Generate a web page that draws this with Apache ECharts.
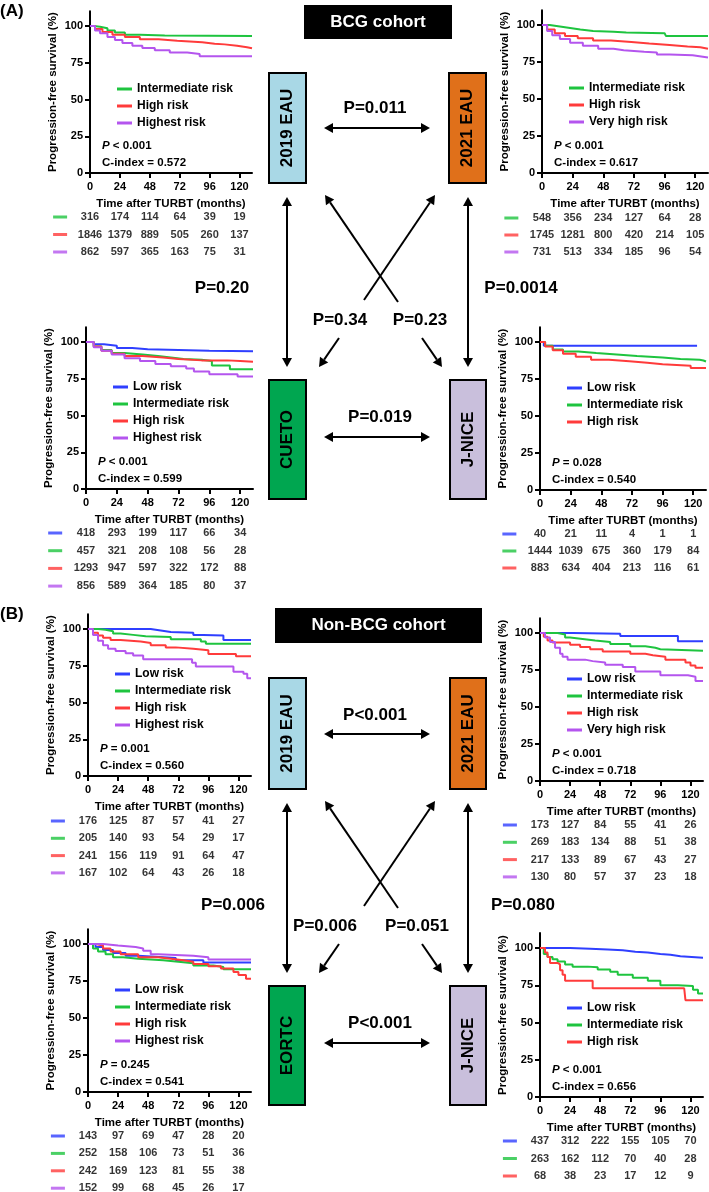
<!DOCTYPE html>
<html><head><meta charset="utf-8">
<script src="https://cdn.jsdelivr.net/npm/echarts@6/dist/echarts.min.js"></script>
<style>html,body{margin:0;padding:0;background:#fff}#c{width:709px;height:1192px}</style>
</head><body><div id="c"></div><script>
// ---------- DATA ----------
const xTicks = [0, 24, 48, 72, 96, 120];
const yTicks = [0, 25, 50, 75, 100];

// (A) BCG cohort — 2019 EAU
const bcg2019Names = ['Intermediate risk', 'High risk', 'Highest risk'];
const bcg2019Curves = [
  [[0,100],[3,99.5],[8,98.5],[14,97],[20,95.5],[28,94],[40,93.5],[60,93.2],[130,93.2]],
  [[0,100],[4,98],[10,96],[18,94],[28,92.5],[40,91],[55,90],[70,89],[90,88],[100,87.5],[108,86.5],[118,85.5],[126,84.8],[130,84.8]],
  [[0,100],[4,97],[8,95],[14,92.5],[20,90.5],[26,88.5],[34,86.5],[42,85],[52,83.5],[64,82],[78,81],[88,79.5],[130,79.5]]
];
const bcg2019Risk = [[316,174,114,64,39,19],[1846,1379,889,505,260,137],[862,597,365,163,75,31]];

// (A) BCG cohort — 2021 EAU
const bcg2021Names = ['Intermediate risk', 'High risk', 'Very high risk'];
const bcg2021Curves = [
  [[0,100],[6,99],[14,98],[22,97],[30,96],[40,95.5],[56,95],[66,94.5],[96,93.8],[97,92.6],[130,92.6]],
  [[0,100],[4,97],[10,94.5],[18,92.5],[28,91],[40,89.5],[54,88.5],[70,87.5],[84,86.5],[100,85.5],[114,85],[124,84],[130,84]],
  [[0,100],[4,96],[8,93],[14,90.5],[22,88],[32,86],[44,84],[56,83],[64,82],[80,81.5],[90,80],[100,79.5],[118,79],[122,78],[130,78]]
];
const bcg2021Risk = [[548,356,234,127,64,28],[1745,1281,800,420,214,105],[731,513,334,185,96,54]];

// (A) BCG cohort — CUETO
const bcgCuetoNames = ['Low risk', 'Intermediate risk', 'High risk', 'Highest risk'];
const bcgCuetoCurves = [
  [[0,100],[6,98.5],[14,97.5],[24,96],[36,95],[48,94.5],[72,94],[96,93.7],[130,93.7]],
  [[0,100],[6,97],[12,94.5],[20,92.5],[30,91.5],[44,90.5],[56,89.5],[66,88.5],[76,88],[90,87],[98,84],[112,81.5],[130,81.5]],
  [[0,100],[6,97],[12,94],[20,92],[30,90.5],[44,89.5],[60,88.5],[72,87.5],[90,87.5],[110,87],[120,86.5],[130,86.5]],
  [[0,100],[6,96.5],[12,94],[20,91.5],[30,89],[42,87],[54,85],[66,83.5],[78,82],[84,80],[96,78],[118,76.5],[130,76.5]]
];
const bcgCuetoRisk = [[418,293,199,117,66,34],[457,321,208,108,56,28],[1293,947,597,322,172,88],[856,589,364,185,80,37]];

// (A) BCG cohort — J-NICE
const bcgJniceNames = ['Low risk', 'Intermediate risk', 'High risk'];
const bcgJniceCurves = [
  [[0,100],[3,97.5],[123,97.5]],
  [[0,100],[4,97.5],[10,95],[18,93.5],[30,92.5],[44,91.5],[60,90.5],[76,89.5],[96,88.5],[110,88],[125,87.5],[128,86.8],[130,86.8]],
  [[0,100],[4,97],[10,94.5],[18,92],[28,90],[40,88],[54,87],[70,86],[84,85],[96,84],[118,82.5],[130,82.5]]
];
const bcgJniceRisk = [[40,21,11,4,1,1],[1444,1039,675,360,179,84],[883,634,404,213,116,61]];

// (B) Non-BCG cohort — 2019 EAU
const nb2019Names = ['Low risk', 'Intermediate risk', 'High risk', 'Highest risk'];
const nb2019Curves = [
  [[0,100],[50,99],[58,98],[66,97.5],[84,96],[92,95.5],[108,92.5],[130,92.5]],
  [[0,100],[8,99.5],[14,98.5],[20,97],[26,96],[36,95],[46,94.5],[66,93],[80,93],[90,91.5],[94,90],[130,90]],
  [[0,100],[4,97.5],[8,95.5],[12,94],[18,92.5],[26,91.5],[42,90.5],[50,89],[62,87.5],[70,86.5],[84,85.5],[96,83],[118,81.5],[130,81.5]],
  [[0,100],[4,96],[8,92],[12,89],[16,86.5],[22,85],[30,83.5],[36,82],[44,79.5],[80,79.5],[83,77],[86,74.5],[112,74.5],[116,71],[124,69.5],[127,66.5],[130,66.5]]
];
const nb2019Risk = [[176,125,87,57,41,27],[205,140,93,54,29,17],[241,156,119,91,64,47],[167,102,64,43,26,18]];

// (B) Non-BCG cohort — 2021 EAU
const nb2021Names = ['Low risk', 'Intermediate risk', 'High risk', 'Very high risk'];
const nb2021Curves = [
  [[0,100],[26,99.5],[64,98],[110,94.5],[130,94.5]],
  [[0,100],[14,99],[20,97],[24,96],[34,95],[44,94],[56,92.5],[72,91],[84,90],[92,89],[96,88],[130,88]],
  [[0,100],[3,97.5],[6,95],[10,93.5],[24,92],[32,90.5],[40,89],[50,87.5],[72,86],[84,85],[90,84],[100,82],[116,80],[120,78],[124,76.5],[130,76.5]],
  [[0,100],[4,97],[8,94],[12,90],[16,86],[18,84],[22,82],[36,81],[42,80],[52,78.5],[66,77],[76,74],[96,71.5],[118,70.5],[124,67.5],[130,67.5]]
];
const nb2021Risk = [[173,127,84,55,41,26],[269,183,134,88,51,38],[217,133,89,67,43,27],[130,80,57,37,23,18]];

// (B) Non-BCG cohort — EORTC
const nbEortcNames = ['Low risk', 'Intermediate risk', 'High risk', 'Highest risk'];
const nbEortcCurves = [
  [[0,100],[6,98],[12,96],[20,94],[30,92],[40,91],[60,90.5],[70,89],[92,87.5],[130,87.5]],
  [[0,100],[4,97],[8,95],[14,93],[20,91],[28,90],[40,89],[60,88],[72,87],[84,85.5],[100,84.5],[108,83],[130,83]],
  [[0,100],[6,99],[12,97],[18,95],[26,93],[40,91],[56,90],[66,89],[76,88],[84,86.5],[96,85],[106,83.5],[116,81],[120,79],[126,76.5],[130,76.5]],
  [[0,100],[12,99],[24,98],[38,97],[44,95.5],[50,93],[56,92],[84,91],[96,89.5],[130,89.5]]
];
const nbEortcRisk = [[143,97,69,47,28,20],[252,158,106,73,51,36],[242,169,123,81,55,38],[152,99,68,45,26,17]];

// (B) Non-BCG cohort — J-NICE
const nbJniceNames = ['Low risk', 'Intermediate risk', 'High risk'];
const nbJniceCurves = [
  [[0,100],[24,99.5],[40,99],[54,98.5],[66,97.5],[76,97],[86,96],[96,95.5],[104,94.5],[112,93.5],[130,93.5]],
  [[0,100],[3,96],[6,94],[10,92.5],[14,91],[20,89],[26,87.5],[38,87],[46,85.5],[56,84],[62,82],[74,80],[86,78],[96,75],[110,74.5],[122,72],[126,69.5],[130,69.5]],
  [[0,100],[4,97],[6,94],[8,90],[14,89],[16,85],[18,82],[20,78],[36,78],[42,73],[115,73],[116,65],[130,65]]
];
const nbJniceRisk = [[437,312,222,155,105,70],[263,162,112,70,40,28],[68,38,23,17,12,9]];

const pTexts = ['< 0.001', '< 0.001', '< 0.001', '= 0.028', '= 0.001', '< 0.001', '= 0.245', '< 0.001'];
const cIndex = ['0.572', '0.617', '0.599', '0.540', '0.560', '0.718', '0.541', '0.656'];

// ---------- STYLE / LAYOUT ----------
const FONT = 'Arial, "Liberation Sans", Helvetica, sans-serif';
const BLUE = '#2f3fff', GREEN = '#1ec43f', RED = '#ff3b3b', PURPLE = '#b455ee';
const col3 = [GREEN, RED, PURPLE];
const col4 = [BLUE, GREEN, RED, PURPLE];
const col3b = [BLUE, GREEN, RED];

const panels = [
  {names: bcg2019Names, curves: bcg2019Curves, risk: bcg2019Risk, colors: col3, L: 90, W: 162, y0: 173, k: 1.47, legY: 89, rowY: 217, sp: 17.5},
  {names: bcg2021Names, curves: bcg2021Curves, risk: bcg2021Risk, colors: col3, L: 542, W: 166, y0: 173, k: 1.48, legY: 88, rowY: 218, sp: 17},
  {names: bcgCuetoNames, curves: bcgCuetoCurves, risk: bcgCuetoRisk, colors: col4, L: 86, W: 167, y0: 489, k: 1.47, legY: 387, rowY: 533, sp: 17.7},
  {names: bcgJniceNames, curves: bcgJniceCurves, risk: bcgJniceRisk, colors: col3b, L: 540, W: 166, y0: 490, k: 1.48, legY: 388, rowY: 534, sp: 17},
  {names: nb2019Names, curves: nb2019Curves, risk: nb2019Risk, colors: col4, L: 88, W: 163, y0: 776, k: 1.47, legY: 674, rowY: 821, sp: 17.3},
  {names: nb2021Names, curves: nb2021Curves, risk: nb2021Risk, colors: col4, L: 540, W: 163, y0: 781, k: 1.48, legY: 679, rowY: 825, sp: 17.3},
  {names: nbEortcNames, curves: nbEortcCurves, risk: nbEortcRisk, colors: col4, L: 88, W: 163, y0: 1092, k: 1.48, legY: 990, rowY: 1136, sp: 17.4},
  {names: nbJniceNames, curves: nbJniceCurves, risk: nbJniceRisk, colors: col3b, L: 540, W: 163, y0: 1097, k: 1.49, legY: 1008, rowY: 1141, sp: 17.5}
];

const grid = [], xAxis = [], yAxis = [], series = [], legend = [], graphic = [];
const txt = {color: '#000', fontFamily: FONT, fontWeight: 'bold'};

panels.forEach((p, i) => {
  const gi = grid.length;
  const H = 110 * p.k;
  grid.push({left: p.L, top: p.y0 - H, width: p.W, height: H, outerBoundsMode: 'none'});
  xAxis.push({gridIndex: gi, type: 'value', min: 0, max: 130,
    axisLine: {onZero: false, lineStyle: {color: '#000', width: 2}},
    axisTick: {customValues: xTicks, length: 5, lineStyle: {color: '#000', width: 2}},
    axisLabel: Object.assign({customValues: xTicks, margin: 8, fontSize: 11}, txt),
    splitLine: {show: false},
    name: 'Time after TURBT (months)', nameLocation: 'middle', nameGap: 25,
    nameTextStyle: Object.assign({fontSize: 11.5}, txt)});
  yAxis.push({gridIndex: gi, type: 'value', min: 0, max: 110,
    axisLine: {show: true, onZero: false, lineStyle: {color: '#000', width: 2}},
    axisTick: {show: true, customValues: yTicks, length: 5, lineStyle: {color: '#000', width: 2}},
    axisLabel: Object.assign({customValues: yTicks, margin: 7, fontSize: 11}, txt),
    splitLine: {show: false},
    name: 'Progression-free survival (%)', nameLocation: 'middle', nameGap: 31,
    nameTextStyle: Object.assign({fontSize: 11.5}, txt)});
  p.curves.forEach((c, j) => {
    series.push({type: 'line', name: p.names[j], xAxisIndex: gi, yAxisIndex: gi, data: c,
      step: 'end', symbol: 'none', silent: true,
      lineStyle: {color: p.colors[j], width: 2}, itemStyle: {color: p.colors[j]}});
  });
  legend.push({orient: 'vertical', left: p.L + 27, top: p.legY - 7, padding: 0,
    itemWidth: 15, itemHeight: 3, itemGap: 3, icon: 'rect', selectedMode: false,
    data: p.names.map((n, j) => ({name: n, itemStyle: {color: p.colors[j]}})),
    textStyle: Object.assign({fontSize: 12, lineHeight: 14}, txt)});

  // number-at-risk table
  const ti = grid.length;
  const ppm = p.W / 130;
  const n = p.risk.length;
  grid.push({left: p.L - 30 * ppm, top: p.rowY - p.sp / 2, width: 160 * ppm, height: n * p.sp, outerBoundsMode: 'none'});
  xAxis.push({gridIndex: ti, type: 'value', min: -30, max: 130, show: false});
  yAxis.push({gridIndex: ti, type: 'category', data: p.risk.map((r, j) => j), inverse: true, show: false});
  const cells = [];
  p.risk.forEach((row, r) => row.forEach((v, c) => cells.push([xTicks[c], r, v])));
  series.push({type: 'scatter', xAxisIndex: ti, yAxisIndex: ti, data: cells, symbolSize: 1, silent: true,
    itemStyle: {color: 'rgba(0,0,0,0)'},
    label: Object.assign({show: true, position: 'inside', fontSize: 11, formatter: q => q.value[2]}, txt)});
  series.push({type: 'scatter', xAxisIndex: ti, yAxisIndex: ti, symbol: 'rect', symbolSize: [14, 3], silent: true,
    data: p.risk.map((row, r) => ({value: [-24, r], itemStyle: {color: p.colors[r]}}))});

  // P and C-index annotations
  graphic.push({type: 'text', x: p.L + 12, y: p.y0 - 27, style: {
    text: '{i|P} ' + pTexts[i], fill: '#000', font: 'bold 11.5px ' + FONT, verticalAlign: 'middle', textVerticalAlign: 'middle',
    rich: {i: {fontStyle: 'italic', fontWeight: 'bold', fontSize: 11.5, fontFamily: FONT, fill: '#000'}}}});
  graphic.push({type: 'text', x: p.L + 12, y: p.y0 - 10, style: {
    text: 'C-index = ' + cIndex[i], fill: '#000', font: 'bold 11.5px ' + FONT, verticalAlign: 'middle', textVerticalAlign: 'middle'}});
});

// ---------- DIAGRAM ----------
function label(s, x, y, size, color) {
  graphic.push({type: 'text', x: x, y: y, style: {text: s, fill: color || '#000', font: 'bold ' + (size || 17) + 'px ' + FONT,
    align: 'center', textAlign: 'center', verticalAlign: 'middle', textVerticalAlign: 'middle'}});
}
function box(x, y, w, h, fill, s) {
  graphic.push({type: 'rect', shape: {x: x, y: y, width: w, height: h}, style: {fill: fill, stroke: '#000', lineWidth: 2}});
  graphic.push({type: 'text', x: x + w / 2, y: y + h / 2, rotation: Math.PI / 2, style: {text: s, fill: '#000',
    font: 'bold 17px ' + FONT, align: 'center', textAlign: 'center', verticalAlign: 'middle', textVerticalAlign: 'middle'}});
}
function head(tx, ty, fx, fy) {
  const dx = tx - fx, dy = ty - fy, d = Math.hypot(dx, dy), ux = dx / d, uy = dy / d;
  const L = 9, Wd = 5;
  const bx = tx - ux * L, by = ty - uy * L;
  graphic.push({type: 'polygon', shape: {points: [[tx, ty], [bx - uy * Wd, by + ux * Wd], [bx + uy * Wd, by - ux * Wd]]}, style: {fill: '#000'}});
  return [bx, by];
}
function arrow(x1, y1, x2, y2, h1, h2) {
  let a = [x1, y1], b = [x2, y2];
  if (h1) a = head(x1, y1, x2, y2);
  if (h2) b = head(x2, y2, x1, y1);
  graphic.push({type: 'line', shape: {x1: a[0], y1: a[1], x2: b[0], y2: b[1]}, style: {stroke: '#000', lineWidth: 2}});
}
function section(dy, titleBox, tl, boxes, pl) {
  graphic.push({type: 'rect', shape: titleBox, style: {fill: '#000'}});
  label(tl, titleBox.x + titleBox.width / 2, titleBox.y + titleBox.height / 2, 17, '#fff');
  boxes.forEach(b => box(b[0], b[1], b[2], b[3], b[4], b[5]));
  arrow(324, 128 + dy, 430, 128 + dy, true, true);
  arrow(324, 437 + dy, 430, 437 + dy, true, true);
  arrow(287, 197 + dy, 287, 367 + dy, true, true);
  arrow(468, 197 + dy, 468, 367 + dy, true, true);
  arrow(435, 195 + dy, 364, 300 + dy, true, false);
  arrow(339, 338 + dy, 319, 367 + dy, false, true);
  arrow(325, 195 + dy, 398, 302 + dy, true, false);
  arrow(422, 338 + dy, 442, 367 + dy, false, true);
  pl.forEach(q => label(q[0], q[1], q[2], 17));
}
section(0, {x: 304, y: 5, width: 148, height: 34}, 'BCG cohort',
  [[269, 73, 37, 110, '#a9d8e6', '2019 EAU'], [449, 73, 37, 110, '#e0701a', '2021 EAU'],
   [269, 380, 37, 119, '#00a650', 'CUETO'], [450, 380, 36, 119, '#c9bfdc', 'J-NICE']],
  [['P=0.011', 375, 108], ['P=0.019', 380, 417], ['P=0.34', 340, 320], ['P=0.23', 420, 320],
   ['P=0.20', 222, 288], ['P=0.0014', 521, 288]]);
section(606, {x: 275, y: 608, width: 207, height: 35}, 'Non-BCG cohort',
  [[269, 678, 37, 111, '#a9d8e6', '2019 EAU'], [450, 678, 36, 111, '#e0701a', '2021 EAU'],
   [269, 986, 36, 119, '#00a650', 'EORTC'], [450, 986, 36, 119, '#c9bfdc', 'J-NICE']],
  [['P<0.001', 375, 715], ['P<0.001', 380, 1023], ['P=0.006', 325, 926], ['P=0.051', 417, 926],
   ['P=0.006', 233, 905], ['P=0.080', 523, 905]]);
graphic.push({type: 'text', x: 0, y: 11, style: {text: '(A)', fill: '#000', font: 'bold 17px ' + FONT, verticalAlign: 'middle', textVerticalAlign: 'middle'}});
graphic.push({type: 'text', x: 0, y: 614, style: {text: '(B)', fill: '#000', font: 'bold 17px ' + FONT, verticalAlign: 'middle', textVerticalAlign: 'middle'}});

const chart = echarts.init(document.getElementById('c'), null, {renderer: 'canvas'});
chart.setOption({animation: false, backgroundColor: '#fff', grid, xAxis, yAxis, series, legend, graphic});
</script></body></html>
